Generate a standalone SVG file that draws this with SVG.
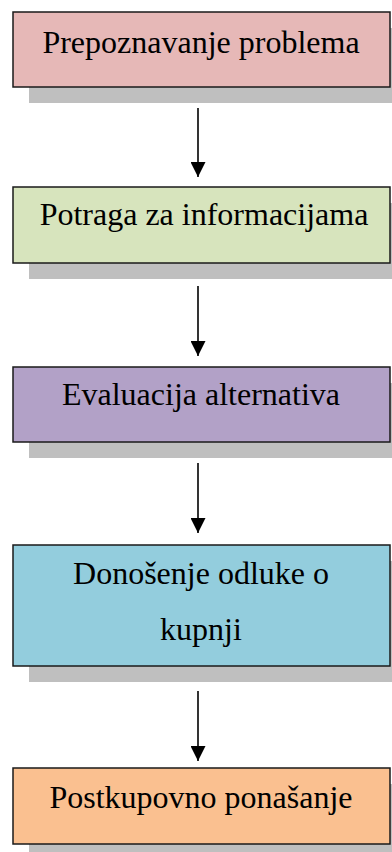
<svg xmlns="http://www.w3.org/2000/svg" width="392" height="852" viewBox="0 0 392 852">
<defs>
<style>
.shadow{fill:#BFBFBF;stroke:none}
.box{stroke:#1a1a1a;stroke-width:1.5}
.lbl{font-family:"Liberation Serif","Times New Roman",serif;font-size:32px;fill:#000;text-anchor:middle}
.conn{stroke:#000;stroke-width:1.6;fill:none}
</style>
<marker id="ah" viewBox="0 0 10 10" refX="10" refY="5" markerWidth="15" markerHeight="15" markerUnits="userSpaceOnUse" orient="auto">
<path d="M0,0 L10,5 L0,10 Z" fill="#000"/>
</marker>
</defs>
<rect width="392" height="852" fill="#fff"/>
<g id="n1">
<rect class="shadow" x="29" y="28" width="377" height="75"/>
<rect class="box" x="13" y="12" width="377" height="75" fill="#E6B8B7"/>
<text class="lbl" x="201" y="53">Prepoznavanje problema</text>
</g>
<g id="n2">
<rect class="shadow" x="29" y="203" width="377" height="76"/>
<rect class="box" x="13" y="187" width="377" height="76" fill="#D7E4BD"/>
<text class="lbl" x="204" y="225">Potraga za informacijama</text>
</g>
<g id="n3">
<rect class="shadow" x="29" y="383" width="377" height="75"/>
<rect class="box" x="13" y="367" width="377" height="75" fill="#B2A1C7"/>
<text class="lbl" x="201" y="405">Evaluacija alternativa</text>
</g>
<g id="n4">
<rect class="shadow" x="29" y="561" width="377" height="121"/>
<rect class="box" x="13" y="545" width="377" height="121" fill="#93CDDD"/>
<text class="lbl" x="201" y="584">Donošenje odluke o</text>
<text class="lbl" x="201" y="640">kupnji</text>
</g>
<g id="n5">
<rect class="shadow" x="29" y="784" width="377" height="76"/>
<rect class="box" x="13" y="768" width="377" height="76" fill="#FAC090"/>
<text class="lbl" x="201" y="808">Postkupovno ponašanje</text>
</g>
<g id="connectors">
<line class="conn" x1="198" y1="108" x2="198" y2="177" marker-end="url(#ah)"/>
<line class="conn" x1="198" y1="286" x2="198" y2="356" marker-end="url(#ah)"/>
<line class="conn" x1="198" y1="463" x2="198" y2="533" marker-end="url(#ah)"/>
<line class="conn" x1="198" y1="691" x2="198" y2="761" marker-end="url(#ah)"/>
</g>
</svg>
